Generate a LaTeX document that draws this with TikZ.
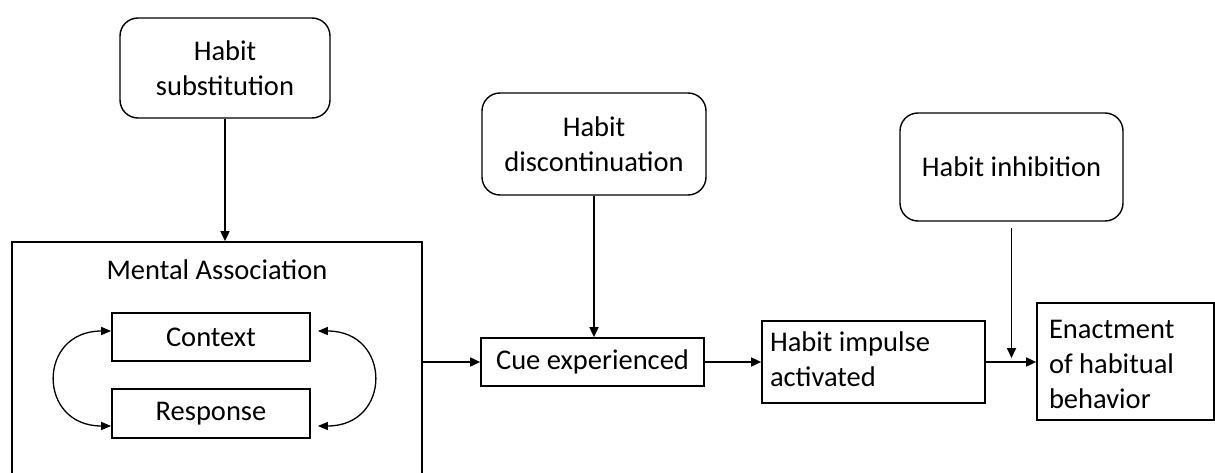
\documentclass[tikz,border=0pt]{standalone}
\usepackage{fontspec}
\setmainfont{Carlito}
\usetikzlibrary{arrows.meta}
\begin{document}
\begin{tikzpicture}[x=1pt,y=-1pt,
  every node/.style={font=\fontsize{28.5}{35}\selectfont, line width=1.7pt, inner sep=0pt},
  rbox/.style={draw, rounded corners=18pt, align=center, line width=1.4pt},
  sbox/.style={draw, align=center},
  txt/.style={align=left, anchor=west},
  arr/.style={line width=1.7pt, -{Triangle[length=10pt,width=9pt]}},
  darr/.style={line width=1.3pt, {Triangle[length=10pt,width=8pt]}-{Triangle[length=10pt,width=8pt]}}
]
\useasboundingbox (0,0) rectangle (1215,473);
\clip (0,0) rectangle (1215,473);
\node[rbox, minimum width=210pt, minimum height=100pt] (sub) at (225,68) {Habit\\substitution};
\node[draw, minimum width=410pt, minimum height=250pt] (ma) at (217,367) {};
\node (malabel) at (217,270) {Mental Association};
\node[sbox, minimum width=198pt, minimum height=48pt] (ctx) at (211,337) {Context};
\node[sbox, minimum width=198pt, minimum height=49pt] (resp) at (211,413.5) {Response};
\node[rbox, minimum width=224pt, minimum height=102pt] (disc) at (594,144) {Habit\\discontinuation};
\node[sbox, minimum width=223pt, minimum height=48pt] (cue) at (592.5,362) {Cue experienced};
\node[draw, minimum width=223pt, minimum height=82pt] (imp) at (873.5,362) {};
\node[txt] (imptxt) at ([xshift=8pt,yshift=3pt]imp.west) {Habit impulse\\activated};
\node[draw, minimum width=177pt, minimum height=117pt] (enact) at (1125.5,361.5) {};
\node[txt] (enacttxt) at ([xshift=12pt,yshift=-3pt]enact.west) {Enactment\\of habitual\\behavior};
\node[rbox, minimum width=223pt, minimum height=108pt] (inh) at (1011.5,167) {Habit inhibition};
\coordinate (join) at (1011.5,358);
\draw[arr] (sub.south) -- (sub.south |- ma.north);
\draw[arr] (disc.south) -- (disc.south |- cue.north);
\draw[arr] (cue -| ma.east) -- (cue.west);
\draw[arr] (cue.east) -- (imp.west);
\draw[arr] (imp.east) -- (enact.west |- imp.east);
\draw[arr] ([yshift=-6pt]inh.south) -- (join);
\draw[darr] ([yshift=6pt]ctx.west) .. controls (37,331) and (37,426) .. ([yshift=-12.5pt]resp.west);
\draw[darr] ([xshift=7pt,yshift=6pt]ctx.east) .. controls (392,331) and (392,426) .. ([xshift=7pt,yshift=-12.5pt]resp.east);
\end{tikzpicture}
\end{document}
